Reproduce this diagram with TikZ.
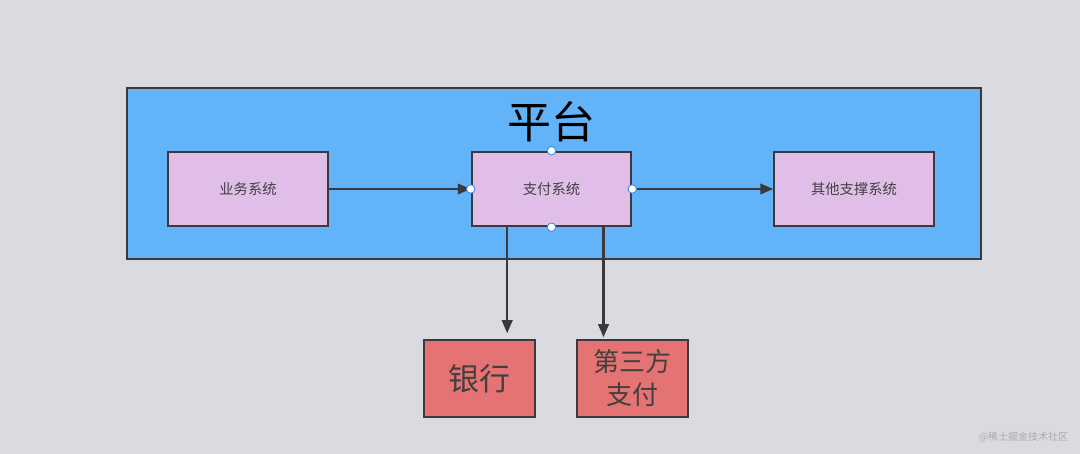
\documentclass[tikz,border=0pt]{standalone}
\usepackage{fontspec}
\usetikzlibrary{arrows.meta}
\newfontfamily\cjk{Noto Sans CJK SC}
\definecolor{bgc}{HTML}{D9DBE0}
\definecolor{bluec}{HTML}{62B3F7}
\definecolor{purplec}{HTML}{E1BEE7}
\definecolor{redc}{HTML}{E57373}
\definecolor{linec}{HTML}{3A3A3C}
\definecolor{textc}{HTML}{404040}
\definecolor{markc}{HTML}{A9ABAF}
\definecolor{handlec}{HTML}{3B8FEF}
\tikzset{
  x=1pt,y=1pt,
  boxbase/.style={draw=linec,line width=2pt,inner sep=0pt,anchor=center,text=textc,align=center},
  sysbox/.style={boxbase,fill=purplec,minimum width=159.5pt,minimum height=74.5pt,font=\cjk\fontsize{14.3}{16}\selectfont},
  extbox/.style={boxbase,fill=redc,minimum width=110.5pt,minimum height=77.5pt},
  conn/.style={draw=linec,line width=2.2pt,-{Triangle[length=13pt,width=10.5pt]}},
  handle/.style={circle,draw=handlec,fill=white,line width=0.9pt,minimum size=8.5pt,inner sep=0pt}
}
\begin{document}
\begin{tikzpicture}
\useasboundingbox (0,0) rectangle (1080,454);
\fill[bgc] (0,0) rectangle (1080,454);
\node[boxbase,fill=bluec,minimum width=853.5pt,minimum height=170.5pt] (platform) at (554,280.3) {};
\node[text=black,font=\cjk\fontsize{44}{48}\selectfont,inner sep=0pt] (title) at (551,332.5) {平台};
\node[sysbox] (biz) at (248,265) {业务系统};
\node[sysbox] (pay) at (551.5,265) {支付系统};
\node[sysbox] (other) at (854,265) {其他支撑系统};
\node[extbox] (bank) at (479.5,75.5) {};
\node[font=\cjk\fontsize{31}{34}\selectfont,text=textc,inner sep=0pt] (banktext) at (479.5,75) {银行};
\node[extbox,font=\cjk\fontsize{26}{33}\selectfont] (third) at (632.5,75.5) {第三方\\支付};
\coordinate (payb1) at ([xshift=-44.3pt]pay.south);
\coordinate (payb2) at ([xshift=52pt]pay.south);
\coordinate (bankin) at ([xshift=27.7pt,yshift=5.5pt]bank.north);
\coordinate (thirdin) at ([xshift=-29pt,yshift=1.5pt]third.north);
\draw[conn] (biz.east) -- (pay.west);
\draw[conn] (pay.east) -- (other.west);
\draw[conn] (payb1) -- (bankin);
\draw[conn] (payb2) -- (thirdin);
\node[handle] (h1) at (pay.north) {};
\node[handle] (h2) at (pay.south) {};
\node[handle] (h3) at (pay.west) {};
\node[handle] (h4) at (pay.east) {};
\node[text=markc,font=\cjk\fontsize{10}{12}\selectfont,inner sep=0pt] (mark) at (1023.5,17) {@稀土掘金技术社区};
\end{tikzpicture}
\end{document}
